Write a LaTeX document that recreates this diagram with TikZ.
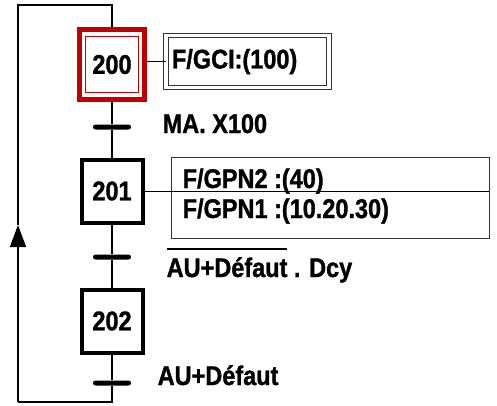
\documentclass[tikz,border=0pt]{standalone}
\usepackage{fontspec}
\setmainfont{Liberation Sans}[FakeStretch=0.87,BoldFeatures={FakeBold=1.2}]
\usetikzlibrary{arrows.meta,calc}
\tikzstyle{every node}=[font=\fontsize{27}{30}\selectfont\bfseries]
\tikzstyle{etape}=[draw,line width=4pt,minimum width=61pt,minimum height=63pt,inner sep=0pt]
\tikzstyle{init}=[draw=rr,line width=5pt,minimum width=65pt,minimum height=70pt,inner sep=0pt]
\tikzstyle{trans}=[fill,minimum width=38pt,minimum height=5pt,inner sep=0pt,rounded corners=2.5pt]
\tikzstyle{action}=[draw=black!80,line width=.9pt,inner sep=0pt]
\tikzstyle{recept}=[anchor=base west,inner sep=0pt]
\definecolor{rr}{RGB}{192,0,0}
\newcommand\surligne[1]{\setbox0\hbox{#1}\rlap{\rule[27pt]{\wd0}{1.8pt}}\copy0\relax}

\begin{document}
\begin{tikzpicture}[x=1pt,y=-1pt,line width=1.4pt]
	\useasboundingbox (0,0) rectangle (497,405);
	% etapes et transitions
	\node[init] (s200o) at (112,64.5) {};
	\node[draw=rr,line width=.9pt,minimum width=53pt,minimum height=56pt,inner sep=0pt] (s200) at (s200o) {200};
	\node[trans] (t1) at (112,127) {};
	\node[etape] (s201) at (112,191) {201};
	\node[trans] (t2) at (112,257) {};
	\node[etape] (s202) at (112,321) {202};
	\node[trans] (t3) at (112,383) {};
	% actions
	\node[action,double,double distance=3.6pt,minimum width=163pt,minimum height=52pt,text width=151pt,inner xsep=6pt] (a200) at (247.5,61.5) {F/GCI:(100)};
	\node[action,minimum width=318pt,minimum height=81pt] (a201) at (330,197.5) {};
		\node[recept] (g2) at (182,188) {F/GPN2 :(40)};
		\node[recept] (g1) at (182,218) {F/GPN1 :(10.20.30)};
	% receptivites
	\node[recept] (r1) at (162,133) {MA. X100};
	\node[recept] (r2) at (166,277) {\surligne{AU+Défaut} . Dcy};
	\node[recept] (r3) at (157,385) {AU+Défaut};
	% bouclage
	\coordinate (br) at (112,402);
	\coordinate (bl) at (18,402);
	\coordinate (fl) at (18,225);
	\coordinate (tl) at (18,5);
	\coordinate (tr) at (112,5);
	\draw (s200o) -- (t1) -- (s201) -- (t2) -- (s202) -- (t3) -- (br) -- (bl);
	\draw[-{Triangle[length=22pt,width=16pt]}] (bl) -- (fl);
	\draw (fl) -- (tl) -- (tr) -- (s200o);
	\draw[line width=.9pt] (s200o.east |- a200.west) -- (a200.west);
	\draw[line width=.9pt] (s201.east) -- (s201.east -| a201.east);
\end{tikzpicture}
\end{document}
